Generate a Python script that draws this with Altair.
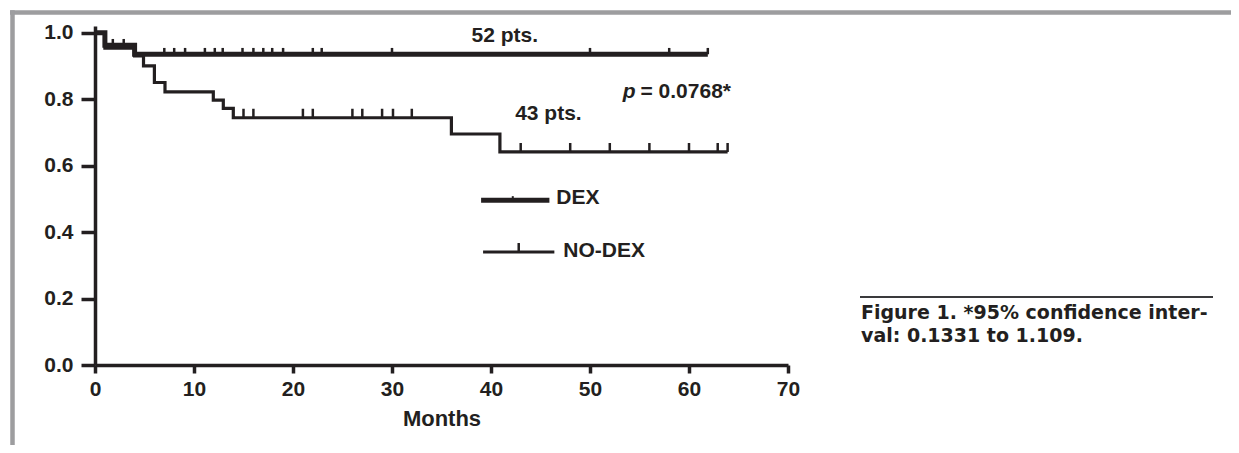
import altair as alt
import pandas as pd

INK = "#231f20"
FONT = "Liberation Sans"

# ---- Kaplan-Meier curves (months, survival) ----
dex_t = [0, 1.0, 4.0, 61.9]
dex_s = [1.0, 0.962, 0.935, 0.935]
dex_cens = [1.8, 2.9, 7.0, 8.0, 9.1, 11.1, 12.1, 12.9, 14.9, 16.0, 17.0, 17.9,
            19.0, 22.0, 22.9, 30.0, 50.0, 58.0, 61.9]

nodex_t = [0, 1.0, 4.0, 4.9, 6.0, 7.07, 11.95, 12.96, 13.97, 36.0, 40.9, 63.9]
nodex_s = [1.0, 0.953, 0.93, 0.90, 0.85, 0.822, 0.797, 0.772, 0.744, 0.695, 0.641, 0.641]
nodex_cens = [15.0, 16.0, 21.0, 22.0, 26.0, 27.0, 29.0, 30.1, 32.0, 43.0, 48.0,
              52.0, 56.0, 60.0, 62.9, 63.9]

# ---- axis ticks ----
x_ticks = [0, 10, 20, 30, 40, 50, 60, 70]
y_ticks = [0.0, 0.2, 0.4, 0.6, 0.8, 1.0]

# ---- legend ----
legend_names = ["DEX", "NO-DEX"]
legend_x1 = [39.0, 39.2]
legend_x2 = [45.9, 46.4]
legend_y = [0.496, 0.34]
legend_tick_x = [42.2, 42.8]
legend_text_x = [46.6, 47.3]
legend_text_y = [0.483, 0.324]

# ---- annotations ----
n_labels = ["52 pts.", "43 pts."]
n_x = [41.4, 45.8]
n_y = [0.971, 0.737]
p_label = "p"
p_value = "= 0.0768*"
p_x = [53.3, 55.1]
p_y = 0.802

caption = ["Figure 1. *95% confidence inter-", "val: 0.1331 to 1.109."]


def level(t, times, surv):
    v = surv[0]
    for tt, ss in zip(times, surv):
        if tt <= t:
            v = ss
    return v


dex_df = pd.DataFrame({"t": dex_t, "s": dex_s})
nodex_df = pd.DataFrame({"t": nodex_t, "s": nodex_s})
dex_c = pd.DataFrame({"t": dex_cens, "s": [level(c, dex_t, dex_s) for c in dex_cens]})
nodex_c = pd.DataFrame({"t": nodex_cens, "s": [level(c, nodex_t, nodex_s) for c in nodex_cens]})

xscale = alt.Scale(domain=[0, 70], nice=False, zero=False)
yscale = alt.Scale(domain=[0, 1.02], nice=False, zero=False)
xaxis = alt.Axis(values=x_ticks, format="d", tickSize=8, labelPadding=5,
                 titlePadding=9, labelFlush=False)
yaxis = alt.Axis(values=y_ticks, format=".1f", tickSize=14, labelPadding=8)


def X(f):
    return alt.X(f, type="quantitative", scale=xscale, axis=xaxis, title="Months")


def Y(f):
    return alt.Y(f, type="quantitative", scale=yscale, axis=yaxis, title=None)


dex_line = alt.Chart(dex_df).mark_line(
    interpolate="step-after", strokeWidth=5, color=INK
).encode(x=X("t"), y=Y("s"))
nodex_line = alt.Chart(nodex_df).mark_line(
    interpolate="step-after", strokeWidth=3.2, color=INK
).encode(x=X("t"), y=Y("s"))

# censor marks: short vertical strokes rising from the curve
dex_ticks = alt.Chart(dex_c).transform_calculate(s2="datum.s + 0.019").mark_rule(
    strokeWidth=2.5, color=INK
).encode(x=X("t"), y=Y("s"), y2="s2:Q")
nodex_ticks = alt.Chart(nodex_c).transform_calculate(s2="datum.s + 0.027").mark_rule(
    strokeWidth=2.5, color=INK
).encode(x=X("t"), y=Y("s"), y2="s2:Q")

leg_df = pd.DataFrame({"name": legend_names, "x1": legend_x1, "x2": legend_x2,
                       "y": legend_y, "tx": legend_tick_x,
                       "lx": legend_text_x, "ly": legend_text_y})
leg_dex = alt.Chart(leg_df[leg_df.name == "DEX"]).mark_rule(
    strokeWidth=5, color=INK).encode(x=X("x1"), x2="x2", y=Y("y"))
leg_nodex = alt.Chart(leg_df[leg_df.name == "NO-DEX"]).mark_rule(
    strokeWidth=3.2, color=INK).encode(x=X("x1"), x2="x2", y=Y("y"))
leg_ticks_dex = alt.Chart(leg_df[leg_df.name == "DEX"]).transform_calculate(
    y2="datum.y + 0.012").mark_rule(strokeWidth=2, color=INK
).encode(x=X("tx"), y=Y("y"), y2="y2:Q")
leg_ticks_nodex = alt.Chart(leg_df[leg_df.name == "NO-DEX"]).transform_calculate(
    y2="datum.y + 0.027").mark_rule(strokeWidth=2.5, color=INK
).encode(x=X("tx"), y=Y("y"), y2="y2:Q")
leg_text = alt.Chart(leg_df).mark_text(
    align="left", baseline="alphabetic", font=FONT, fontWeight="bold",
    fontSize=21, color=INK
).encode(x=X("lx"), y=Y("ly"), text="name:N")

n_df = pd.DataFrame({"label": n_labels, "x": n_x, "y": n_y})
n_text = alt.Chart(n_df).mark_text(
    align="center", baseline="alphabetic", font=FONT, fontWeight="bold",
    fontSize=21, color=INK
).encode(x=X("x"), y=Y("y"), text="label:N")

p_df = pd.DataFrame({"label": [p_label], "x": [p_x[0]], "y": [p_y]})
p_text = alt.Chart(p_df).mark_text(
    align="left", baseline="alphabetic", font=FONT, fontWeight="bold",
    fontStyle="italic", fontSize=21, color=INK
).encode(x=X("x"), y=Y("y"), text="label:N")
pv_df = pd.DataFrame({"label": [p_value], "x": [p_x[1]], "y": [p_y]})
pv_text = alt.Chart(pv_df).mark_text(
    align="left", baseline="alphabetic", font=FONT, fontWeight="bold",
    fontSize=21, color=INK
).encode(x=X("x"), y=Y("y"), text="label:N")

# ---- page decoration: grey frame, caption rule and caption ----
one = pd.DataFrame({"a": [0]})
frame_top = alt.Chart(one).mark_rule(color="#9d9d9f", strokeWidth=4.5).encode(
    x=alt.value(-85), x2=alt.value(1140), y=alt.value(-13.5))
frame_left = alt.Chart(one).mark_rule(color="#9d9d9f", strokeWidth=4.5).encode(
    x=alt.value(-82.5), y=alt.value(-15.7), y2=alt.value(430))
cap_rule = alt.Chart(one).mark_rule(color="#3a3a3c", strokeWidth=2).encode(
    x=alt.value(765), x2=alt.value(1118), y=alt.value(271))
cap1 = alt.Chart(pd.DataFrame({"c": [caption[0]]})).mark_text(
    align="left", baseline="alphabetic", font="DejaVu Sans", fontWeight="bold",
    fontSize=19, color=INK).encode(x=alt.value(766), y=alt.value(293), text="c:N")
cap2 = alt.Chart(pd.DataFrame({"c": [caption[1]]})).mark_text(
    align="left", baseline="alphabetic", font="DejaVu Sans", fontWeight="bold",
    fontSize=19, color=INK).encode(x=alt.value(766), y=alt.value(316), text="c:N")

chart = alt.layer(
    frame_top, frame_left, cap_rule, cap1, cap2,
    nodex_line, dex_line, nodex_ticks, dex_ticks,
    leg_dex, leg_nodex, leg_ticks_dex, leg_ticks_nodex, leg_text,
    n_text, p_text, pv_text,
).properties(
    width=693, height=339,
    autosize=alt.AutoSizeParams(type="none"),
    padding={"left": 87, "top": 18, "right": 443, "bottom": 80},
    background="white",
).configure_view(stroke=None).configure_axis(
    grid=False, domainColor=INK, domainWidth=3.5, tickColor=INK, tickWidth=3.5,
    labelFont=FONT, labelFontWeight="bold", labelFontSize=21, labelColor=INK,
    titleFont=FONT, titleFontWeight="bold", titleFontSize=22, titleColor=INK,
)

chart.save("out.html", embed_options={"renderer": "svg", "actions": False})
